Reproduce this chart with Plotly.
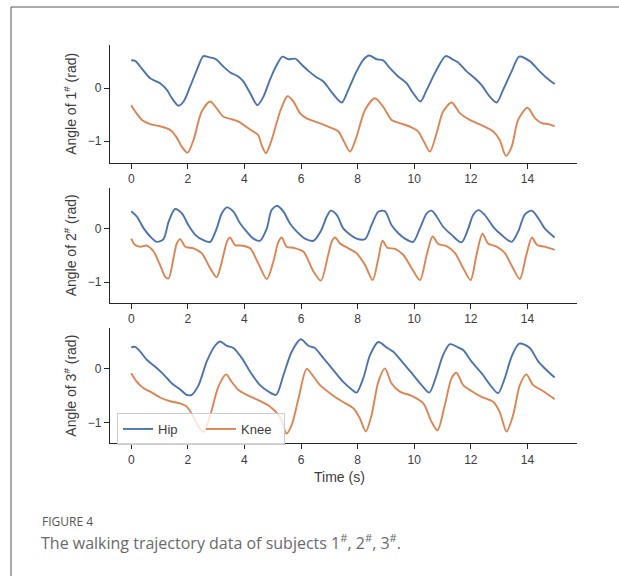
import plotly.graph_objects as go

# ---------------- data ----------------
ticks_x = [0, 2, 4, 6, 8, 10, 12, 14]
ticks_y = [-1, 0]

t1_hip = [0, 0.14, 0.32, 0.67, 1.02, 1.26, 1.44, 1.67, 1.85, 2.08, 2.32, 2.55, 2.73, 2.9, 3.02, 3.26, 3.5, 3.79, 3.96, 4.2, 4.46, 4.67, 4.9, 5.14, 5.34, 5.55, 5.79, 6.02, 6.26, 6.52, 6.79, 7.02, 7.26, 7.44, 7.67, 7.96, 8.2, 8.41, 8.67, 8.9, 9.14, 9.44, 9.73, 9.96, 10.22, 10.44, 10.79, 11.11, 11.38, 11.55, 11.85, 12.14, 12.38, 12.67, 12.91, 13.14, 13.44, 13.71, 14.09, 14.38, 14.67, 14.96]
v1_hip = [0.53, 0.52, 0.41, 0.19, 0.095, -0.03, -0.19, -0.33, -0.25, 0.03, 0.35, 0.61, 0.59, 0.57, 0.54, 0.41, 0.3, 0.22, 0.13, -0.09, -0.32, -0.16, 0.16, 0.44, 0.6, 0.55, 0.56, 0.45, 0.33, 0.22, 0.13, -0.03, -0.19, -0.27, -0.03, 0.32, 0.54, 0.62, 0.55, 0.53, 0.38, 0.22, 0.095, -0.09, -0.25, -0.03, 0.35, 0.61, 0.54, 0.49, 0.32, 0.19, 0.06, -0.16, -0.27, -0.03, 0.32, 0.6, 0.51, 0.35, 0.2, 0.08]

t1_knee = [0, 0.14, 0.38, 0.67, 1.02, 1.38, 1.59, 1.79, 1.99, 2.2, 2.49, 2.79, 3.02, 3.26, 3.5, 3.79, 4.2, 4.49, 4.61, 4.76, 4.96, 5.26, 5.52, 5.73, 5.96, 6.2, 6.55, 7.02, 7.32, 7.49, 7.73, 7.96, 8.26, 8.61, 8.9, 9.2, 9.49, 9.85, 10.14, 10.34, 10.55, 10.79, 11.02, 11.32, 11.61, 11.96, 12.38, 12.79, 13.02, 13.24, 13.44, 13.67, 14.0, 14.27, 14.51, 14.74, 14.96]
v1_knee = [-0.32, -0.44, -0.6, -0.68, -0.72, -0.79, -0.92, -1.11, -1.22, -0.98, -0.44, -0.25, -0.38, -0.54, -0.58, -0.63, -0.78, -0.89, -1.08, -1.23, -0.98, -0.44, -0.15, -0.25, -0.47, -0.57, -0.64, -0.74, -0.82, -0.98, -1.2, -0.92, -0.41, -0.19, -0.35, -0.6, -0.66, -0.73, -0.82, -1.01, -1.2, -0.85, -0.44, -0.27, -0.47, -0.6, -0.7, -0.82, -0.98, -1.28, -1.11, -0.6, -0.37, -0.57, -0.66, -0.68, -0.72]

t2_hip = [0, 0.2, 0.44, 0.67, 0.91, 1.14, 1.32, 1.55, 1.79, 2.02, 2.26, 2.55, 2.79, 3.02, 3.2, 3.38, 3.61, 3.85, 4.08, 4.32, 4.55, 4.79, 4.96, 5.16, 5.38, 5.61, 5.85, 6.14, 6.44, 6.7, 6.91, 7.05, 7.26, 7.49, 7.67, 7.96, 8.26, 8.49, 8.73, 8.96, 9.2, 9.44, 9.67, 9.96, 10.2, 10.44, 10.61, 10.79, 11.02, 11.32, 11.67, 11.91, 12.08, 12.28, 12.49, 12.79, 13.08, 13.44, 13.67, 13.91, 14.15, 14.38, 14.61, 14.96]
v2_hip = [0.32, 0.22, 0, -0.15, -0.25, -0.2, 0.12, 0.36, 0.28, 0.06, -0.12, -0.22, -0.25, 0, 0.28, 0.39, 0.31, 0.09, -0.06, -0.19, -0.23, 0, 0.34, 0.42, 0.31, 0.09, -0.06, -0.19, -0.23, -0.05, 0.22, 0.33, 0.25, 0, -0.09, -0.19, -0.2, 0.06, 0.31, 0.32, 0.06, -0.09, -0.19, -0.25, 0, 0.28, 0.33, 0.22, 0.03, -0.12, -0.26, 0, 0.25, 0.34, 0.25, 0.03, -0.12, -0.25, -0.06, 0.26, 0.33, 0.19, 0, -0.17]

t2_knee = [0, 0.14, 0.32, 0.55, 0.79, 1.02, 1.2, 1.32, 1.49, 1.61, 1.73, 1.91, 2.2, 2.49, 2.79, 3.02, 3.2, 3.38, 3.49, 3.67, 3.91, 4.2, 4.49, 4.79, 5.02, 5.2, 5.32, 5.49, 5.73, 6.08, 6.44, 6.7, 6.96, 7.08, 7.2, 7.38, 7.67, 7.96, 8.26, 8.53, 8.73, 8.88, 9.05, 9.32, 9.61, 9.91, 10.2, 10.44, 10.65, 10.85, 11.14, 11.44, 11.73, 11.99, 12.2, 12.41, 12.61, 12.91, 13.2, 13.49, 13.73, 13.96, 14.16, 14.34, 14.61, 14.96]
v2_knee = [-0.19, -0.31, -0.34, -0.32, -0.43, -0.68, -0.9, -0.93, -0.56, -0.28, -0.2, -0.34, -0.37, -0.46, -0.74, -0.91, -0.62, -0.25, -0.17, -0.31, -0.32, -0.37, -0.65, -0.94, -0.62, -0.25, -0.17, -0.34, -0.36, -0.43, -0.8, -0.97, -0.49, -0.25, -0.17, -0.28, -0.37, -0.46, -0.68, -0.96, -0.56, -0.23, -0.36, -0.38, -0.49, -0.74, -0.96, -0.49, -0.15, -0.29, -0.33, -0.46, -0.74, -0.96, -0.49, -0.1, -0.28, -0.34, -0.46, -0.74, -0.94, -0.49, -0.17, -0.31, -0.34, -0.4]

t3_hip = [0, 0.14, 0.32, 0.55, 0.85, 1.14, 1.44, 1.73, 1.96, 2.14, 2.38, 2.67, 2.96, 3.14, 3.38, 3.61, 3.91, 4.2, 4.55, 4.85, 5.12, 5.38, 5.67, 5.99, 6.26, 6.49, 6.79, 7.14, 7.49, 7.79, 7.96, 8.2, 8.44, 8.73, 9.02, 9.26, 9.61, 9.96, 10.26, 10.53, 10.79, 11.02, 11.26, 11.55, 11.73, 12.02, 12.38, 12.73, 12.96, 13.2, 13.44, 13.71, 14.08, 14.38, 14.67, 14.96]
v3_hip = [0.4, 0.41, 0.32, 0.17, 0.04, -0.1, -0.27, -0.38, -0.48, -0.48, -0.3, 0.14, 0.43, 0.51, 0.43, 0.39, 0.2, -0.05, -0.3, -0.42, -0.48, -0.11, 0.32, 0.55, 0.43, 0.39, 0.2, -0.02, -0.24, -0.38, -0.44, -0.17, 0.26, 0.5, 0.4, 0.32, 0.11, -0.11, -0.3, -0.44, -0.11, 0.26, 0.46, 0.4, 0.35, 0.14, -0.08, -0.33, -0.45, -0.17, 0.23, 0.47, 0.39, 0.14, -0.02, -0.16]

t3_knee = [0, 0.2, 0.44, 0.67, 1.02, 1.38, 1.73, 1.96, 2.2, 2.38, 2.55, 2.79, 3.08, 3.35, 3.55, 3.79, 4.08, 4.49, 4.91, 5.26, 5.49, 5.67, 5.91, 6.2, 6.44, 6.67, 7.02, 7.44, 7.85, 8.08, 8.29, 8.49, 8.73, 8.96, 9.2, 9.49, 9.91, 10.32, 10.61, 10.82, 11.08, 11.32, 11.49, 11.73, 12.02, 12.38, 12.79, 13.02, 13.26, 13.49, 13.73, 13.96, 14.2, 14.49, 14.96]
v3_knee = [-0.08, -0.24, -0.36, -0.42, -0.53, -0.6, -0.64, -0.7, -0.89, -1.07, -1.17, -0.86, -0.33, -0.1, -0.24, -0.39, -0.48, -0.58, -0.7, -0.89, -1.2, -1.04, -0.55, 0.0, -0.14, -0.3, -0.45, -0.6, -0.73, -0.92, -1.16, -0.86, -0.24, 0.01, -0.27, -0.42, -0.5, -0.64, -0.98, -1.14, -0.67, -0.17, -0.07, -0.3, -0.41, -0.52, -0.61, -0.8, -1.16, -0.86, -0.3, -0.1, -0.3, -0.39, -0.56]

subjects = ["1", "2", "3"]
series_names = ["Hip", "Knee"]
# -----------------------------------------------------------------

W, H = 619, 576
BLUE = "#4C72B0"
ORANGE = "#DD8452"
AX = "#262626"
TXT = "#3c3c3c"
FONT = "Liberation Sans, Arial, sans-serif"

def px_x(p):
    return p / W

def px_y(p):
    return 1 - p / H

x_dom = [px_x(110), px_x(577)]
y_doms = [[px_y(162.7), px_y(45)], [px_y(302.7), px_y(188)], [px_y(443.3), px_y(328)]]
y_ranges = [[-1.41, 0.82], [-1.38, 0.75], [-1.38, 0.76]]

data = [
    (t1_hip, v1_hip, t1_knee, v1_knee),
    (t2_hip, v2_hip, t2_knee, v2_knee),
    (t3_hip, v3_hip, t3_knee, v3_knee),
]

fig = go.Figure()
for i, (th, vh, tk, vk) in enumerate(data):
    xa = "x" if i == 0 else f"x{i+1}"
    ya = "y" if i == 0 else f"y{i+1}"
    fig.add_trace(go.Scatter(x=th, y=vh, mode="lines", name=series_names[0],
                             line=dict(color=BLUE, width=1.9, shape="spline", smoothing=0.8),
                             xaxis=xa, yaxis=ya, showlegend=(i == 2), legendrank=1))
    fig.add_trace(go.Scatter(x=tk, y=vk, mode="lines", name=series_names[1],
                             line=dict(color=ORANGE, width=1.9, shape="spline", smoothing=0.8),
                             xaxis=xa, yaxis=ya, showlegend=(i == 2), legendrank=2))

axis_common = dict(showline=True, linecolor=AX, linewidth=1.3, ticks="outside",
                   ticklen=5, tickwidth=1.2, tickcolor=AX, showgrid=False, zeroline=False,
                   tickfont=dict(family=FONT, size=12, color=TXT))

layout = dict(
    width=W, height=H, margin=dict(l=0, r=0, t=0, b=0),
    paper_bgcolor="white", plot_bgcolor="white",
    font=dict(family=FONT, color=TXT),
    showlegend=True,
    legend=dict(orientation="h", x=px_x(117), y=px_y(413), xanchor="left", yanchor="top",
                bgcolor="rgba(255,255,255,0.8)", bordercolor="#cccccc", borderwidth=1,
                font=dict(family=FONT, size=13, color=TXT), itemwidth=30,
                entrywidth=38, entrywidthmode="pixels", tracegroupgap=0),
)
for i in range(3):
    xk = "xaxis" if i == 0 else f"xaxis{i+1}"
    yk = "yaxis" if i == 0 else f"yaxis{i+1}"
    ya = "y" if i == 0 else f"y{i+1}"
    xa = "x" if i == 0 else f"x{i+1}"
    layout[xk] = dict(domain=x_dom, anchor=ya, range=[-0.75, 15.75], tickvals=ticks_x, **axis_common)
    layout[yk] = dict(domain=y_doms[i], anchor=xa, range=y_ranges[i], tickvals=ticks_y, **axis_common)

fig.update_layout(**layout)

annotations = []
for i, s in enumerate(subjects):
    yc = (y_doms[i][0] + y_doms[i][1]) / 2
    annotations.append(dict(x=px_x(70), y=yc, xref="paper", yref="paper", showarrow=False,
                            text=f"Angle of {s}<sup>#</sup> (rad)", textangle=-90,
                            font=dict(family=FONT, size=14, color=TXT),
                            xanchor="center", yanchor="middle"))
annotations.append(dict(x=px_x(339), y=px_y(477), xref="paper", yref="paper", showarrow=False,
                        text="Time (s)", font=dict(family=FONT, size=14, color=TXT),
                        xanchor="center", yanchor="middle"))
annotations.append(dict(x=px_x(40), y=px_y(521.5), xref="paper", yref="paper", showarrow=False,
                        text="FIGURE 4", font=dict(family="Open Sans, sans-serif", size=12, color="#555555"),
                        xanchor="left", yanchor="middle"))
annotations.append(dict(x=px_x(39), y=px_y(542), xref="paper", yref="paper", showarrow=False,
                        text="The walking trajectory data of subjects 1<sup>#</sup>, 2<sup>#</sup>, 3<sup>#</sup>.",
                        font=dict(family="Open Sans, sans-serif", size=16, color="#6a6a6a"),
                        xanchor="left", yanchor="middle"))
fig.update_layout(annotations=annotations)

fig.update_layout(shapes=[
    dict(type="line", xref="paper", yref="paper", x0=px_x(11), x1=1, y0=px_y(7), y1=px_y(7),
         line=dict(color="#555555", width=1)),
    dict(type="line", xref="paper", yref="paper", x0=px_x(11), x1=px_x(11), y0=px_y(7), y1=0,
         line=dict(color="#555555", width=1)),
])

fig.write_html("out.html", config={"displayModeBar": False})

# remove the browser's default page margin so the figure sits at (0, 0)
with open("out.html", "r", encoding="utf-8") as f:
    html = f.read()
html = html.replace("<head>", "<head><style>html,body{margin:0;padding:0;overflow:hidden;}</style>", 1)
with open("out.html", "w", encoding="utf-8") as f:
    f.write(html)
